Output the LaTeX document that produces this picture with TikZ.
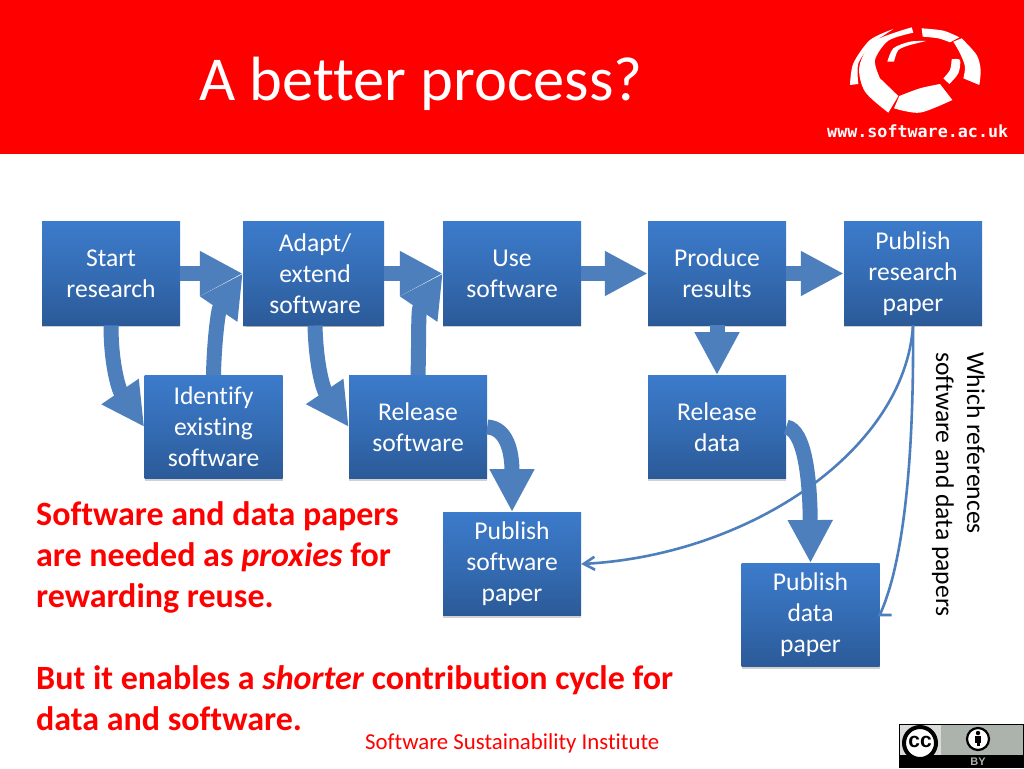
\documentclass[tikz,border=0pt]{standalone}
\usepackage{fontspec}
\setmainfont[Ligatures=NoCommon]{Carlito}
\newfontfamily\monof{DejaVu Sans Mono}
\newfontfamily\badgef{Liberation Sans}
\usetikzlibrary{arrows.meta,shadows}
\definecolor{arrowblue}{HTML}{4D7FBD}
\definecolor{boxtop}{HTML}{3C7BCB}
\definecolor{boxbot}{HTML}{2B5A98}
\definecolor{ccgray}{HTML}{ABB3AC}
\tikzset{
  x=1pt,y=-1pt,
  procbox/.style={shade,top color=boxtop,bottom color=boxbot,middle color=boxtop!55!boxbot,text=white,align=center,
    minimum width=138pt,minimum height=103.5pt,inner sep=0pt,
    font=\fontsize{25.6}{31}\selectfont,
    drop shadow={shadow xshift=0pt,shadow yshift=-2pt,fill=black,opacity=.18}},
  fatarrow/.style={draw=arrowblue,line width=15pt,-{Triangle[length=43pt,width=42pt,fill=arrowblue]}},
  thinlink/.style={draw=arrowblue,line width=2.6pt},
  logopart/.style={fill=white,draw=none},
}
\begin{document}
\begin{tikzpicture}
\useasboundingbox (0,0) rectangle (1024,768);
\fill[white] (0,0) rectangle (1024,768);
\fill[red] (0,0) rectangle (1024,154);
\node[anchor=base west,inner sep=0pt,text=white,font=\fontsize{62.5}{64}\selectfont] (title) at (199,100) {A better process?};
% logo
\begin{scope}[shift={(830,10)},x=0.3333pt,y=-0.3333pt]
\fill[logopart] plot[smooth] coordinates {(192,295) (270,308) (367,270)} -- plot[smooth] coordinates {(330,222) (270,235) (208,258)} -- cycle;
\fill[logopart] plot[smooth] coordinates {(175,308) (105,245) (88,170) (130,95) (245,52)} -- plot[smooth] coordinates {(250,68) (175,92) (135,150) (150,205)} -- (205,258) -- cycle;
\fill[logopart] plot[smooth] coordinates {(60,225) (70,160) (120,90) (190,57)} -- plot[smooth] coordinates {(125,100) (85,160) (85,222)} -- cycle;
\fill[logopart] plot[smooth] coordinates {(275,55) (340,62) (388,82)} -- plot[smooth] coordinates {(360,97) (325,85) (278,80)} -- cycle;
\fill[logopart] plot[smooth] coordinates {(395,85) (440,135) (452,180) (448,225)} -- plot[smooth] coordinates {(400,205) (405,170) (390,130) (370,95)} -- cycle;
\fill[logopart] plot[smooth] coordinates {(172,155) (190,115) (240,95) (288,93)} -- plot[smooth] coordinates {(240,105) (205,120) (192,155)} -- cycle;
\fill[logopart] plot[smooth] coordinates {(365,148) (390,150) (385,190) (358,222)} -- plot[smooth] coordinates {(340,205) (360,180) (365,148)} -- cycle;
\end{scope}
\node[anchor=base west,inner sep=0pt,text=white,font=\monof\bfseries\fontsize{16.7}{18}\selectfont] (url) at (827,137) {www.software.ac.uk};
% boxes
\node[procbox] (start) at (111,273.5) {Start\\research};
\node[procbox] (adaptback) at (312,273.5) {};
\node[procbox] (adapt) at (315,273.5) {Adapt/\\extend\\software};
\node[procbox] (use) at (512,273.5) {Use\\software};
\node[procbox] (produce) at (717,273.5) {Produce\\results};
\node[procbox] (research) at (913,273.5) {Publish\\research\\paper};
\node[procbox] (identify) at (213.5,427) {Identify\\existing\\software};
\node[procbox] (relsw) at (418,427) {Release\\software};
\node[procbox] (reldata) at (717,427) {Release\\data};
\node[procbox] (pubsw) at (512,564) {Publish\\software\\paper};
\node[procbox] (pubdata) at (810.5,615) {Publish\\data\\paper};
% thin links
\draw[thinlink,-{Straight Barb[length=11pt,width=13pt,line width=2.6pt]}] (research.south) .. controls (905,450) and (750,555) .. (pubsw.east);
\draw[thinlink] (research.south) .. controls (914,450) and (905,560) .. (pubdata.east) -- ++(12,0);
% fat arrows
\draw[fatarrow] (start.east) -- (adaptback.west);
\draw[fatarrow] (adapt.east) -- (use.west);
\draw[fatarrow] (use.east) -- (produce.west);
\draw[fatarrow] (produce.east) -- (research.west);
\draw[fatarrow] (produce.south) -- (reldata.north);
\draw[fatarrow] (start.south) .. controls (111,365) and (119,390) .. (identify.west);
\draw[fatarrow] (identify.north) .. controls (214,345) and (218,310) .. (adaptback.west);
\draw[fatarrow] (adapt.south) .. controls (316,365) and (323,389) .. (relsw.west);
\draw[fatarrow] (relsw.north) .. controls (419,345) and (418,310) .. (use.west);
\draw[fatarrow] (relsw.east) .. controls (506,428) and (512,450) .. (pubsw.north);
\draw[fatarrow] (reldata.east) .. controls (805,430) and (810,480) .. (pubdata.north);
% side text
\node[rotate=-90,anchor=north west,inner sep=0pt,align=left,text=black,font=\fontsize{25.6}{31}\selectfont] (side) at (985,352) {Which references\\software and data papers};
% red text
\node[anchor=north west,inner sep=0pt,align=left,text=red,font=\bfseries\fontsize{34}{41}\selectfont] (msg) at (36,501) {Software and data papers\\are needed as \textit{proxies} for\\rewarding reuse.\\[41pt]But it enables a \textit{shorter} contribution cycle for\\data and software.};
\node[anchor=base west,inner sep=0pt,text=red,font=\fontsize{22.8}{24}\selectfont] (foot) at (365,749) {Software Sustainability Institute};
% cc badge
\fill[black] (899,724) rectangle (1024,768);
\fill[ccgray] (900,725) rectangle (1023,755);
\fill[white,opacity=.55] (900,725) rectangle (941,755);
\draw[black,fill=white,line width=4pt] (920,743) circle (16);
\node[inner sep=0pt,text=black,font=\badgef\bfseries\fontsize{21}{22}\selectfont] (cc) at (920,741.5) {cc};
\draw[black,fill=white,line width=2.2pt] (978,739) circle (11);
\fill[black] (978,733) circle (2.2);
\fill[black] (975,736) rectangle (981,742.5);
\fill[black] (976.5,742) rectangle (979.5,746);
\node[inner sep=0pt,text=ccgray,font=\badgef\bfseries\fontsize{11}{12}\selectfont] (by) at (978,761.5) {BY};
\end{tikzpicture}
\end{document}
